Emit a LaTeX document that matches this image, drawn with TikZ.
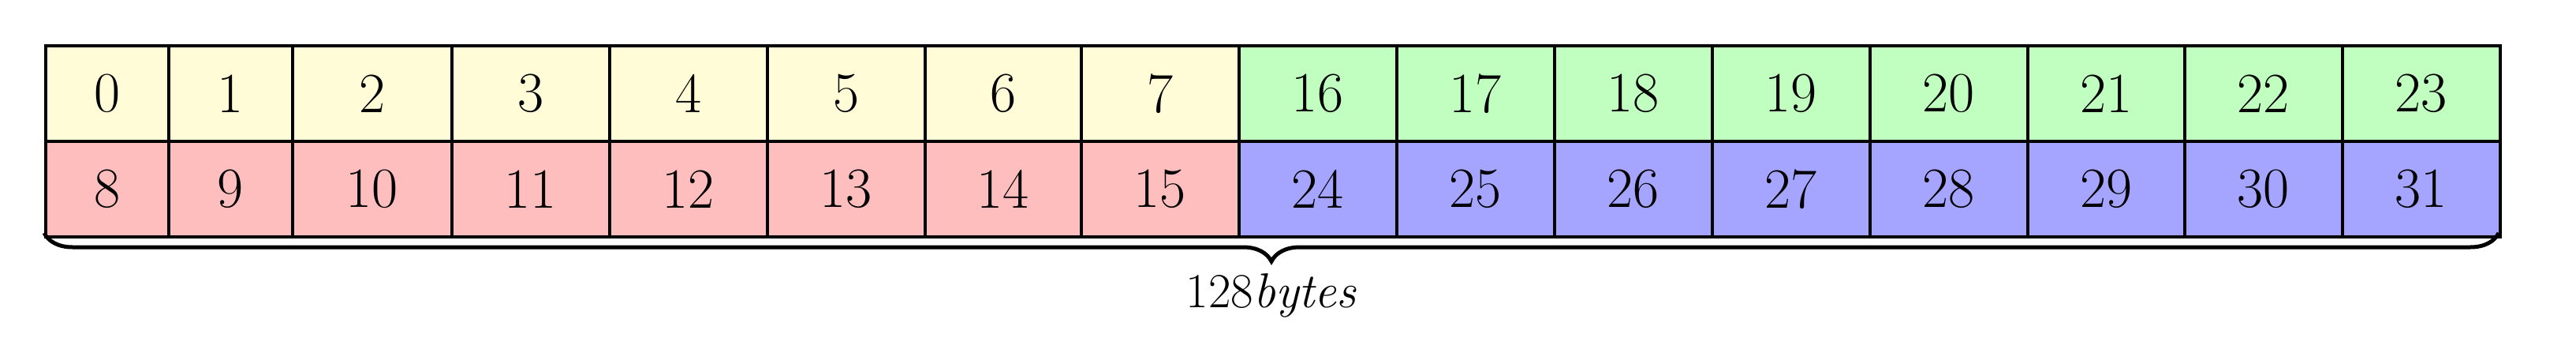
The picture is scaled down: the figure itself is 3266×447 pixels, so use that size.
\documentclass[tikz,border=0pt]{standalone}
\usetikzlibrary{decorations.pathreplacing}
\definecolor{cy}{RGB}{255,252,215}
\definecolor{cr}{RGB}{255,190,190}
\definecolor{cg}{RGB}{192,255,192}
\definecolor{cb}{RGB}{165,165,255}
\begin{document}
\begin{tikzpicture}[x=1pt,y=-1pt,
  cell/.style={draw=black,line width=3.5pt,minimum height=121pt,inner sep=0pt,anchor=north west,font=\fontsize{72}{76}\selectfont}]
\useasboundingbox (0,0) rectangle (3266,447);
\def\xs{{56,212,369,571,771,971,1171,1369,1569,1769,1969,2169,2369,2569,2768,2968,3168}}
\foreach \i in {0,...,15}{
  \pgfmathsetmacro\xa{\xs[\i]}
  \pgfmathsetmacro\xb{\xs[\i+1]}
  \pgfmathsetmacro\w{\xb-\xa}
  \pgfmathtruncatemacro\top{\i<8 ? \i : \i+8}
  \pgfmathtruncatemacro\bot{\top+8}
  \ifnum\i<8 \def\ct{cy}\def\cbb{cr}\else\def\ct{cg}\def\cbb{cb}\fi
  \node[cell,fill=\ct,minimum width=\w pt] (t\i) at (\xa,56) {\top};
  \node[cell,fill=\cbb,minimum width=\w pt] (b\i) at (\xa,177) {\bot};
}
\coordinate (bl) at (56,295);
\coordinate (br) at (3168,295);
\draw[line width=5pt,decorate,decoration={brace,mirror,amplitude=36pt}] (bl) -- (br)
  node[midway,below=46pt,font=\fontsize{62}{66}\selectfont] (lab) {128\textit{bytes}};
\end{tikzpicture}
\end{document}
